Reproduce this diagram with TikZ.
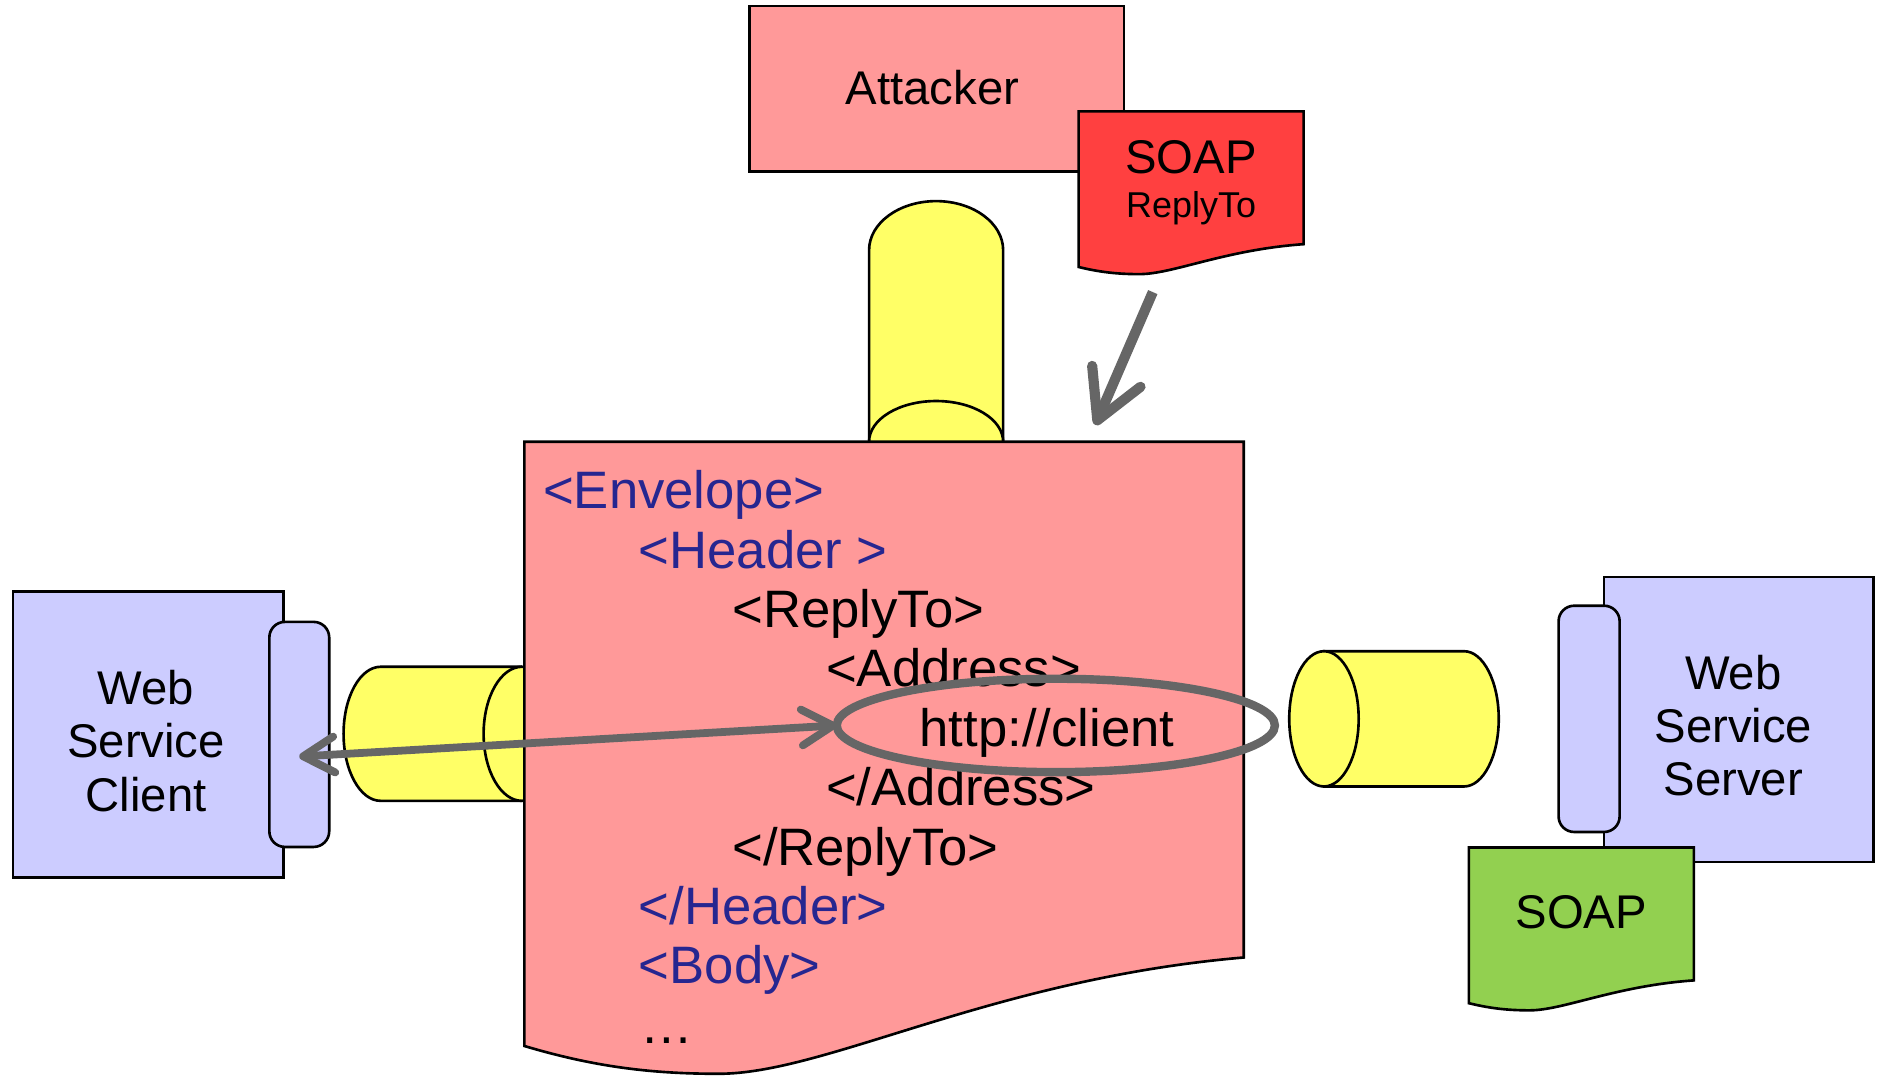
\documentclass[tikz,border=0pt]{standalone}
\usepackage{fontspec}
\setmainfont{Liberation Sans}
\usetikzlibrary{arrows.meta,shapes.geometric}

\definecolor{salmon}{HTML}{FF9999}
\definecolor{alert}{HTML}{FF4040}
\definecolor{cylyellow}{HTML}{FFFF66}
\definecolor{lavender}{HTML}{CCCCFF}
\definecolor{leaf}{HTML}{92D050}
\definecolor{arrowgray}{HTML}{666666}
\definecolor{tagblue}{HTML}{262690}

% Wavy-bottomed document sheet: fill, left x, top y, width, height
\newcommand\docsheet[5]{%
  \draw[outline, fill=#1, xshift=#2pt, yshift=-#3pt, x=#4pt, y=-#5pt]
    (0,0) -- (1,0) -- (1,0.816)
    .. controls (0.65,0.85) and (0.42,1.0) .. (0.27,1.0)
    .. controls (0.18,1.0) and (0.1,0.99) .. (0,0.956) -- cycle;}

\tikzset{
  outline/.style={draw=black, line width=2.2pt},
  box/.style={outline, rectangle, inner sep=0pt, outer sep=0pt},
  port/.style={box, rounded corners=13pt, fill=lavender},
  label/.style={font=\fontsize{39.5}{44.5}\selectfont, align=center, inner sep=0pt},
  xml/.style={font=\fontsize{44}{50}\selectfont, anchor=base west, inner sep=0pt},
  ptr/.style={draw=arrowgray, line width=6.5pt, line cap=round, line join=round},
}

\begin{document}
\begin{tikzpicture}[x=1pt, y=-1pt]
\useasboundingbox (0,0) rectangle (1568,900);
\fill[white] (0,0) rectangle (1568,900);

% pipes (cylinders)
\draw[outline, fill=cylyellow] (726,369) -- (726,209)
  arc[start angle=180, end angle=0, x radius=56pt, y radius=41pt] -- (838,369);
\draw[outline, fill=cylyellow] (726,369)
  arc[start angle=180, end angle=0, x radius=56pt, y radius=34pt];

\draw[outline, fill=cylyellow] (436,557) -- (318,557)
  arc[start angle=90, end angle=270, x radius=31pt, y radius=56pt] -- (436,669);
\draw[outline, fill=cylyellow] (436,613) ellipse[x radius=32pt, y radius=56pt];

\draw[outline, fill=cylyellow] (1106,544) -- (1223,544)
  arc[start angle=90, end angle=-90, x radius=29pt, y radius=56.5pt] -- (1106,657) -- cycle;
\draw[outline, fill=cylyellow] (1106,600.5) ellipse[x radius=29pt, y radius=56.5pt];

% attacker and its forged message
\node[box, fill=salmon, minimum width=313pt, minimum height=138pt] (attacker) at (782.5,74) {};
\node[label, anchor=base] (attacker-name) at (779,87) {Attacker};

\docsheet{alert}{901}{93}{188}{136}
\node[label, anchor=base] (forged-soap) at (995,145) {SOAP};
\node[label, anchor=base, font=\fontsize{30}{34}\selectfont] (forged-replyto) at (995,182) {ReplyTo};

% the SOAP envelope
\docsheet{salmon}{438}{369}{601}{528}
\node[xml, text=tagblue] (l1) at (453.5,425)   {<Envelope>};
\node[xml, text=tagblue] (l2) at (533.5,474.6) {<Header >};
\node[xml]               (l3) at (611.5,524.2) {<ReplyTo>};
\node[xml]               (l4) at (690,573.8)   {<Address>};
\node[xml]               (l5) at (768,623.4)   {http://client};
\node[xml]               (l6) at (690,673)     {</Address>};
\node[xml]               (l7) at (611.5,722.6) {</ReplyTo>};
\node[xml, text=tagblue] (l8) at (533.5,772.2) {</Header>};
\node[xml, text=tagblue] (l9) at (533.5,821.8) {<Body>};
\node[xml]               (l10) at (535,871.4)  {…};

% web service client
\node[box, fill=lavender, minimum width=226pt, minimum height=239pt] (client) at (124,613.5) {};
\node[port, minimum width=50pt, minimum height=188pt] (client-port) at (250,613.5) {};
\node[label] (client-name) at (122,619) {Web\\Service\\Client};

% web service server
\node[box, fill=lavender, minimum width=225pt, minimum height=238pt] (server) at (1452.5,601) {};
\node[port, minimum width=51pt, minimum height=189pt] (server-port) at (1327.5,600.5) {};
\node[label] (server-name) at (1448,606) {Web\\Service\\Server};
\docsheet{leaf}{1227}{708}{188}{136}
\node[label, anchor=base] (server-soap) at (1321,776) {SOAP};

% highlighted address and connectors
\node[ellipse, draw=arrowgray, line width=7pt, outer sep=0pt, inner sep=0pt,
      minimum width=366pt, minimum height=78pt] (url) at (882,606) {};

\coordinate (forged-out) at (963,244);
\coordinate (envelope-in) at (915,355);
\coordinate (client-in) at (250,632);

\draw[ptr, line width=8.5pt, line cap=butt, -{Straight Barb[length=40pt, width=44pt, round]}]
  (forged-out) -- (envelope-in);
\draw[ptr, {Straight Barb[length=26pt, width=30pt, round]}-{Straight Barb[length=26pt, width=30pt, round]}]
  (client-in) -- (url.west);
\end{tikzpicture}
\end{document}
